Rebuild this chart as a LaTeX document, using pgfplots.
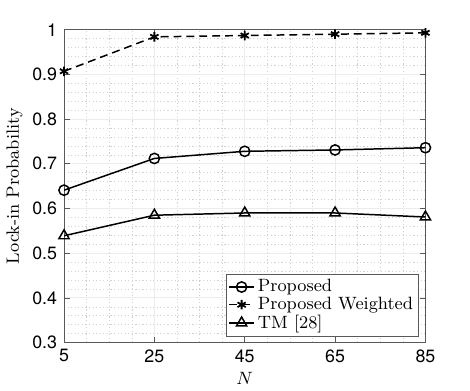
\documentclass[border=0pt]{standalone}
\usepackage{fontspec}
\setsansfont{TeX Gyre Heros}
\usepackage{pgfplots}
\pgfplotsset{compat=1.18}
\begin{document}
\begin{tikzpicture}
\begin{axis}[
  scale only axis, width=182.5pt, height=158pt,
  xmin=5, xmax=85, ymin=0.3, ymax=1,
  xtick={5,25,45,65,85},
  ytick={0.3,0.4,0.5,0.6,0.7,0.8,0.9,1},
  minor x tick num=3, minor y tick num=4,
  grid=both,
  major grid style={gray!15, line width=0.5pt},
  minor grid style={gray!35, dash pattern=on 0.6pt off 1.2pt, line width=0.3pt},
  minor tick length=0pt, major tick length=3pt,
  tick align=inside,
  axis line style={black!65, line width=0.4pt},
  every tick/.style={black!65, line width=0.4pt},
  tick label style={font=\sffamily\small},
  /pgf/number format/assume math mode=true,
  xlabel={$N$}, ylabel={Lock-in Probability},
  label style={font=\small},
  xlabel style={yshift=2pt},
  ylabel style={yshift=-2pt},
  legend cell align=left,
  legend style={at={(0.981,0.019)}, anchor=south east, font=\small,
    draw=black!65, line width=0.4pt, inner sep=1pt, row sep=-2pt,
    nodes={inner sep=1.6pt}},
  legend image code/.code={
    \draw[mark repeat=2, mark phase=2] plot coordinates {(0cm,0cm) (0.22cm,0cm) (0.44cm,0cm)};},
]
\addplot[black, line width=0.75pt, mark=o, mark size=2.6pt, mark options={solid}]
  coordinates {(5,0.641) (25,0.712) (45,0.728) (65,0.731) (85,0.736)};
\addlegendentry{Proposed}
\addplot[black, line width=0.75pt, dash pattern=on 4pt off 2.5pt, mark=asterisk, mark size=2.4pt, mark options={solid, line width=0.9pt}]
  coordinates {(5,0.907) (25,0.984) (45,0.987) (65,0.990) (85,0.993)};
\addlegendentry{Proposed Weighted}
\addplot[black, line width=0.75pt, mark=triangle, mark size=3pt, mark options={solid}]
  coordinates {(5,0.539) (25,0.585) (45,0.590) (65,0.590) (85,0.581)};
\addlegendentry{TM [28]}
\end{axis}
\path (current axis.south west) ++(-30pt,-23.5pt) (current axis.north east) ++(22.5pt,15pt);
\end{tikzpicture}
\end{document}
